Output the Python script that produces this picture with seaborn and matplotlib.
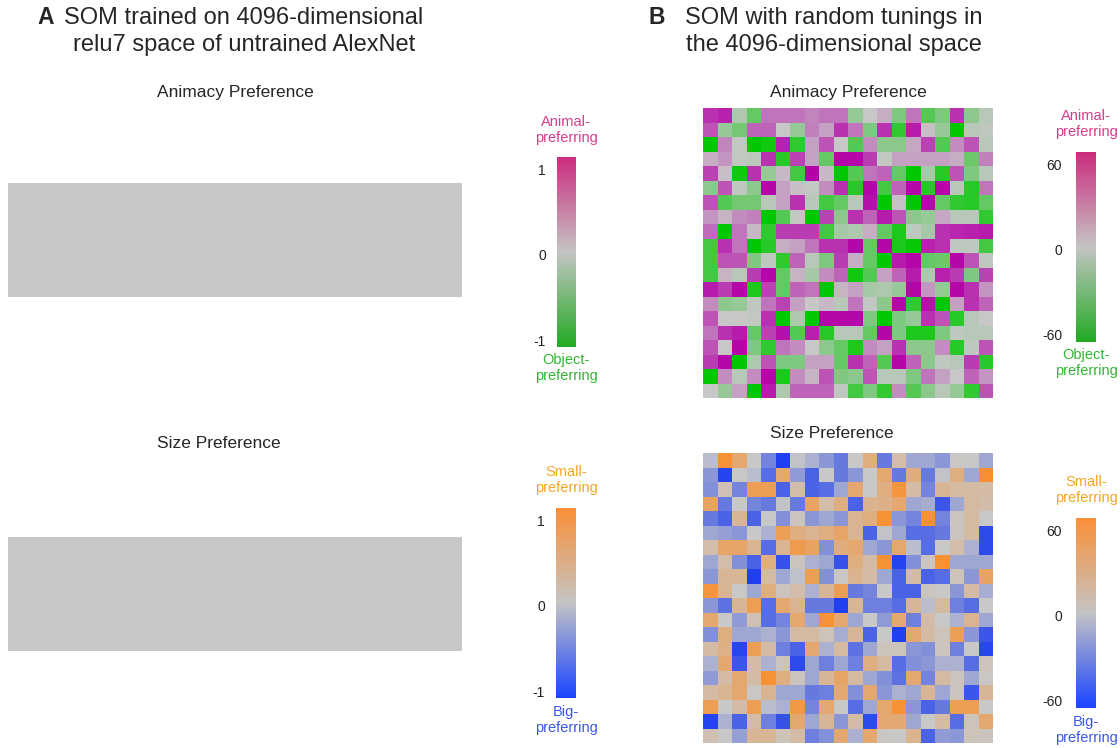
import numpy as np
import matplotlib
matplotlib.use("Agg")
import matplotlib.pyplot as plt
import seaborn as sns
from matplotlib.colors import LinearSegmentedColormap, Normalize
from matplotlib.cm import ScalarMappable

sns.set_theme(style="white")
plt.rcParams['font.family'] = ['Liberation Sans', 'DejaVu Sans']

# ---------------- data ----------------
# Panel A: SOM on untrained AlexNet -> uniform (zero) preference maps
untrained_animacy = [[0, 0, 0, 0, 0, 0, 0, 0],
                     [0, 0, 0, 0, 0, 0, 0, 0]]
untrained_size = [[0, 0, 0, 0, 0, 0, 0, 0],
                  [0, 0, 0, 0, 0, 0, 0, 0]]

# Panel B: SOM with random tunings (20 x 20), estimated from the figure
random_animacy = [
    [45, 50, -8, -30, 25, 25, 25, 20, 25, 25, -15, 0, 8, -22, 25, -35, -22, 45, -18, -5],
    [35, -15, -25, 30, 30, 0, -15, 22, 12, 45, 25, -22, 45, -45, 52, 3, -15, -60, -5, -3],
    [-60, 20, -2, -60, -55, 50, -45, 12, 35, 0, -35, 18, -18, -18, 10, 40, -35, 18, 35, -5],
    [8, 15, -2, -4, 45, -48, 40, 12, -30, 58, 58, 42, -2, 12, 12, 12, 12, 8, -28, 22],
    [40, 3, -55, 45, -15, 5, -40, 60, 5, -60, -35, 25, 30, -30, -60, -10, -48, 35, -22, -5],
    [-18, 35, -3, -18, 58, 12, 3, -2, 18, 45, -48, 58, -40, 30, 58, -48, 58, -5, -48, 25],
    [35, -35, -25, -25, -5, 12, 45, -5, -40, -30, -5, 55, -60, 2, -60, 58, -30, -45, -48, -30],
    [15, 6, 18, 22, -60, -35, -2, -60, 40, -18, 45, 30, 52, 35, -18, -15, 10, -5, -5, -45],
    [28, -60, 25, 5, -45, 42, 42, 42, -40, -10, -8, 8, -30, -52, -3, -10, 45, 48, 50, 52],
    [-40, 45, 25, -60, -48, 8, 12, 25, 45, 45, 58, -30, 58, -52, -58, 50, 45, -3, -3, -40],
    [-40, 35, 35, -22, -3, -45, 30, -5, -22, 42, 8, -30, -60, 52, 58, -30, -28, 58, 35, -3],
    [-40, 6, -5, 42, 58, -30, 6, -10, 18, 30, -55, -35, 12, 30, 52, -8, 50, 42, -22, 40],
    [52, 42, 58, -52, 40, -30, 30, 25, -60, 6, 12, -10, -8, -15, 58, 15, -15, 58, 45, 15],
    [18, -18, -15, -3, 25, 40, 12, 0, 5, -5, 25, -2, -18, 58, -45, 55, -60, 12, 45, 30],
    [35, 0, 0, -2, 45, -60, -8, -60, 58, 58, 58, -22, -60, -22, -15, 45, 35, -48, -5, 0],
    [25, 45, 52, -30, 40, 55, -35, 50, -48, -5, -5, -30, 58, -22, -52, -52, -22, -3, -5, -5],
    [35, 0, 58, -22, -45, 25, 18, 0, -18, -30, -52, 18, 12, 45, -18, -18, 18, -48, -3, 35],
    [42, 58, -60, -8, 35, -22, -22, 12, 12, -30, 45, 30, -35, 58, 30, -18, -3, -5, 42, -48],
    [-60, 18, -5, 18, 58, -52, 18, 6, 35, -22, -18, 35, -5, -5, -22, 25, 12, 0, 30, 15],
    [0, -15, 12, -60, 52, -8, 30, 30, 30, -3, -40, -22, -45, 18, -35, -18, -5, -15, -45, 35],
]

random_size = [
    [-5, 58, 35, 0, -30, -60, -2, -10, -22, -35, 0, 28, -35, 12, -15, -15, -22, 2, 0, -15],
    [-22, -58, 0, -5, -40, 35, -20, -45, 0, -35, -22, 0, 35, -35, 30, -35, -2, 28, -15, 60],
    [-25, 8, -30, 45, 45, -45, 12, -45, -40, -15, 35, 0, 28, 55, 14, -30, 20, 15, 15, 14],
    [40, -35, 0, -30, -35, -2, -35, 40, 12, 28, -45, 22, 25, 35, -15, -12, -50, -15, 15, 12],
    [-35, -45, 20, -45, 0, -25, 4, -22, -15, -22, 22, 28, 58, -22, -30, 58, -30, 4, 15, 0],
    [-15, -18, -22, 0, -10, 45, 28, 22, 28, 38, 22, -45, -2, -15, -40, -40, -35, 4, 15, -55],
    [12, 38, 38, 22, -40, 22, 48, 40, -25, 30, 35, -15, -22, 35, -5, -40, 0, 12, -10, -55],
    [-15, 12, -25, -45, 28, -52, 4, -10, -15, -52, 28, 14, 58, -58, -25, 3, 58, -15, -15, -15],
    [-22, 20, 20, -60, 14, -15, -3, 45, -25, 2, 22, 14, -15, -45, 14, -45, -40, 6, -22, 40],
    [55, 22, 0, -15, 28, 4, 12, -10, 20, 45, -35, -30, 0, -45, -45, 4, 0, -22, 14, -12],
    [-22, -38, 20, 45, -40, 35, 22, -35, -35, -60, 20, -32, -32, -40, 20, -5, 15, -32, -40, 0],
    [35, 0, -20, 8, -40, -30, 35, -15, 58, 35, -15, 0, -20, 35, -32, 14, 0, -10, 22, -15],
    [-25, 28, -15, -15, -10, -22, 15, 15, 6, -12, 20, -45, 0, -60, 35, 14, 6, 45, -22, -50],
    [14, 25, -57, 45, 14, -32, -45, 35, -10, 15, -38, -15, 5, 5, -22, -25, 4, -32, 0, -57],
    [-10, 35, -50, 14, -10, 4, -55, -15, -32, -15, -32, 28, 15, -40, -25, -22, -10, -10, -40, 6],
    [-20, 14, 35, 14, 58, 28, 4, -15, 20, 38, 15, -15, -25, -38, 35, -30, 15, 4, -15, 2],
    [14, 22, 35, 2, 22, -15, -15, -35, -32, 35, -25, 35, -22, -10, -15, 20, -15, 4, -50, 20],
    [45, 0, 14, 45, -5, -10, 52, -30, 35, 0, -40, -15, 35, 58, -22, -45, -35, 45, 45, 0],
    [-58, -10, -45, 14, -32, -52, 35, -15, 20, -22, 14, -55, 35, 33, -15, 0, 14, -40, 6, 35],
    [8, 0, -18, 20, 20, 6, 14, -32, -25, 35, -10, 35, 2, 0, 22, -45, -20, -22, 6, 4],
]

ticks_a = [-1, 0, 1]
ticklabels_a = ["-1", "0", "1"]
ticks_b = [-60, 0, 60]
ticklabels_b = ["-60", "0", "60"]

# ---------------- colours ----------------
cmap_anim = LinearSegmentedColormap.from_list(
    "anim", [(0.0, "#00c800"), (0.5, "#c8c8c8"), (1.0, "#b400a8")])
cmap_size = LinearSegmentedColormap.from_list(
    "size", [(0.0, "#2040f0"), (0.5, "#c8c8c8"), (1.0, "#f89030")])
cbar_anim = LinearSegmentedColormap.from_list(
    "anim_cb", [(0.0, "#22aa22"), (0.5, "#c4c4c4"), (1.0, "#cc2c7e")])
cbar_size = LinearSegmentedColormap.from_list(
    "size_cb", [(0.0, "#1a44ff"), (0.5, "#c4c4c4"), (1.0, "#fa9038")])

C_ANIMAL = "#d83c8c"
C_OBJECT = "#33b533"
C_SMALL = "#f5a623"
C_BIG = "#3a58e8"

W, H = 1120, 748
fig = plt.figure(figsize=(11.2, 7.48), dpi=100)


def ax_px(x0, y0, x1, y1):
    return fig.add_axes([x0 / W, 1 - y1 / H, (x1 - x0) / W, (y1 - y0) / H])


def txt(x, y, s, **kw):
    fig.text(x / W, 1 - y / H, s, **kw)


def heat(data, box, cmap, lim):
    ax = ax_px(*box)
    sns.heatmap(np.array(data, dtype=float), ax=ax, cmap=cmap, vmin=-lim, vmax=lim,
                cbar=False, xticklabels=False, yticklabels=False, linewidths=0)
    ax.set_axis_off()
    return ax


def cbar(box, cmap, lo, hi, ticks, labels, pad):
    cax = ax_px(*box)
    sm = ScalarMappable(norm=Normalize(lo, hi), cmap=cmap)
    cb = fig.colorbar(sm, cax=cax, ticks=ticks)
    cb.outline.set_visible(False)
    cb.set_ticklabels(labels)
    cax.yaxis.set_ticks_position('left')
    cax.tick_params(length=0, labelsize=10, pad=pad, colors="#222222")
    return cb


# ---------------- panel A ----------------
heat(untrained_animacy, (8, 183, 462, 297), cmap_anim, 1)
heat(untrained_size, (8, 537, 462, 651), cmap_size, 1)
cbar((557, 157, 576, 347), cbar_anim, -1.08, 1.15, ticks_a, ticklabels_a, 8)
cbar((556, 508, 576, 698), cbar_size, -1.08, 1.15, ticks_a, ticklabels_a, 8)

# ---------------- panel B ----------------
heat(random_animacy, (703, 108, 993, 398), cmap_anim, 60)
heat(random_size, (703, 453, 993, 743), cmap_size, 60)
cbar((1076, 152, 1096, 342), cbar_anim, -65.5, 69, ticks_b, ticklabels_b, 10)
cbar((1076, 518, 1096, 708), cbar_size, -65.5, 69, ticks_b, ticklabels_b, 10)

# ---------------- texts ----------------
TF = 17
txt(37, 18, "A", fontsize=16.5, fontweight="bold", va="center", ha="left")
txt(244, 18, "SOM trained on 4096-dimensional", fontsize=TF, va="center", ha="center")
txt(244, 45, "relu7 space of untrained AlexNet", fontsize=TF, va="center", ha="center")
txt(648, 18, "B", fontsize=16.5, fontweight="bold", va="center", ha="left")
txt(834, 18, "SOM with random tunings in", fontsize=TF, va="center", ha="center")
txt(834, 45, "the 4096-dimensional space", fontsize=TF, va="center", ha="center")

SF = 12.5
txt(157, 92, "Animacy Preference", fontsize=SF, va="center", ha="left")
txt(157, 443, "Size Preference", fontsize=SF, va="center", ha="left")
txt(770, 92, "Animacy Preference", fontsize=SF, va="center", ha="left")
txt(770, 433, "Size Preference", fontsize=SF, va="center", ha="left")

lab = dict(fontsize=10.5, va="center", ha="center", linespacing=1.2)
txt(566, 130, "Animal-\npreferring", color=C_ANIMAL, **lab)
txt(566, 368, "Object-\npreferring", color=C_OBJECT, **lab)
txt(566, 480, "Small-\npreferring", color=C_SMALL, **lab)
txt(566, 720, "Big-\npreferring", color=C_BIG, **lab)
txt(1086, 124, "Animal-\npreferring", color=C_ANIMAL, **lab)
txt(1086, 363, "Object-\npreferring", color=C_OBJECT, **lab)
txt(1086, 490, "Small-\npreferring", color=C_SMALL, **lab)
txt(1086, 730, "Big-\npreferring", color=C_BIG, **lab)

fig.savefig("out.png", dpi=100, facecolor="white")
